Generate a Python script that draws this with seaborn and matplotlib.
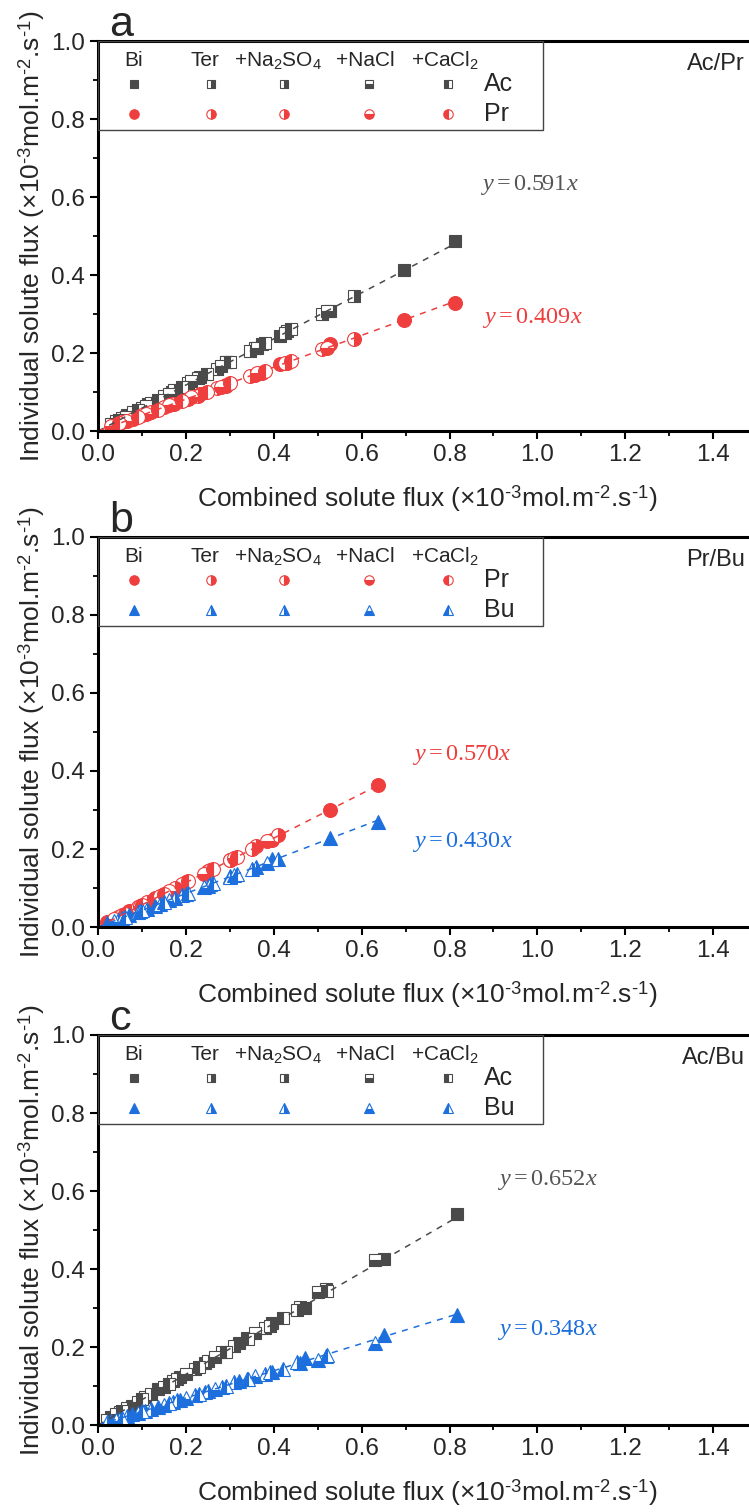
import matplotlib
matplotlib.use('Agg')
import matplotlib.pyplot as plt
import seaborn as sns
from matplotlib.patches import Rectangle
from matplotlib.ticker import MultipleLocator

# conditions, in legend order
conditions = ['Bi', 'Ter', '+Na$_\\mathsf{2}$SO$_\\mathsf{4}$', '+NaCl', '+CaCl$_\\mathsf{2}$']
fills = ['full', 'right', 'right', 'bottom', 'left']

# panel a: Ac / Pr  (combined flux, individual fluxes)
ap_x = [[0.813, 0.697, 0.528, 0.415, 0.372, 0.292, 0.232, 0.167, 0.114, 0.065],
        [0.583, 0.509, 0.430, 0.356, 0.290, 0.226, 0.172, 0.121, 0.078, 0.040],
        [0.425, 0.345, 0.270, 0.205, 0.150, 0.100, 0.055],
        [0.520, 0.362, 0.280, 0.212, 0.160, 0.108, 0.062, 0.028],
        [0.440, 0.380, 0.300, 0.248, 0.190, 0.135, 0.090, 0.048]]
ap_ac = [[0.487, 0.414, 0.308, 0.243, 0.222, 0.176, 0.138, 0.100, 0.069, 0.040],
         [0.347, 0.301, 0.257, 0.214, 0.177, 0.137, 0.104, 0.073, 0.048, 0.025],
         [0.252, 0.205, 0.160, 0.122, 0.089, 0.060, 0.034],
         [0.307, 0.213, 0.166, 0.127, 0.095, 0.064, 0.037, 0.017],
         [0.262, 0.225, 0.178, 0.147, 0.113, 0.080, 0.053, 0.029]]
ap_pr = [[0.329, 0.285, 0.222, 0.173, 0.150, 0.117, 0.094, 0.068, 0.046, 0.026],
         [0.237, 0.209, 0.174, 0.143, 0.116, 0.091, 0.070, 0.049, 0.031, 0.016],
         [0.175, 0.140, 0.111, 0.083, 0.061, 0.041, 0.022],
         [0.213, 0.148, 0.114, 0.086, 0.066, 0.044, 0.025, 0.012],
         [0.180, 0.155, 0.122, 0.101, 0.077, 0.055, 0.037, 0.020]]

# panel b: Pr / Bu
pb_x = [[0.636, 0.528, 0.395, 0.300, 0.200, 0.130, 0.070, 0.020],
        [0.410, 0.360, 0.300, 0.250, 0.190, 0.140, 0.090, 0.045],
        [0.350, 0.255, 0.175, 0.110, 0.055],
        [0.385, 0.310, 0.240, 0.160, 0.095, 0.035],
        [0.315, 0.262, 0.205, 0.150, 0.100, 0.060]]
pb_pr = [[0.364, 0.300, 0.222, 0.172, 0.116, 0.075, 0.040, 0.012],
         [0.237, 0.207, 0.172, 0.143, 0.109, 0.080, 0.052, 0.026],
         [0.201, 0.146, 0.100, 0.063, 0.031],
         [0.221, 0.177, 0.137, 0.092, 0.054, 0.020],
         [0.180, 0.150, 0.117, 0.085, 0.057, 0.034]]
pb_bu = [[0.270, 0.229, 0.175, 0.130, 0.085, 0.055, 0.030, 0.009],
         [0.174, 0.154, 0.128, 0.106, 0.081, 0.060, 0.038, 0.019],
         [0.149, 0.109, 0.075, 0.047, 0.024],
         [0.164, 0.133, 0.103, 0.068, 0.041, 0.015],
         [0.135, 0.112, 0.088, 0.065, 0.043, 0.026]]

# panel c: Ac / Bu
pc_x = [[0.816, 0.651, 0.471, 0.395, 0.320, 0.243, 0.186, 0.137, 0.076, 0.030],
        [0.519, 0.459, 0.380, 0.338, 0.281, 0.220, 0.170, 0.106, 0.050, 0.020],
        [0.452, 0.390, 0.310, 0.250, 0.180, 0.120, 0.065],
        [0.630, 0.501, 0.357, 0.265, 0.200, 0.150, 0.090, 0.040],
        [0.520, 0.420, 0.340, 0.290, 0.230, 0.160, 0.100, 0.055]]
pc_ac = [[0.541, 0.425, 0.300, 0.262, 0.210, 0.160, 0.123, 0.092, 0.050, 0.020],
         [0.348, 0.303, 0.250, 0.222, 0.186, 0.143, 0.112, 0.071, 0.034, 0.014],
         [0.296, 0.255, 0.203, 0.164, 0.117, 0.079, 0.043],
         [0.423, 0.342, 0.237, 0.174, 0.131, 0.098, 0.059, 0.027],
         [0.343, 0.275, 0.221, 0.188, 0.150, 0.104, 0.066, 0.036]]
pc_bu = [[0.282, 0.231, 0.171, 0.137, 0.112, 0.085, 0.064, 0.047, 0.027, 0.010],
         [0.177, 0.158, 0.132, 0.118, 0.097, 0.076, 0.059, 0.037, 0.017, 0.007],
         [0.162, 0.137, 0.109, 0.087, 0.063, 0.042, 0.023],
         [0.209, 0.167, 0.125, 0.092, 0.070, 0.052, 0.031, 0.014],
         [0.179, 0.144, 0.119, 0.101, 0.080, 0.057, 0.035, 0.019]]

# fitted slopes and fit range
slopes_a = [0.591, 0.409]
slopes_b = [0.570, 0.430]
slopes_c = [0.652, 0.348]
fit_end = [0.815, 0.636, 0.818]

GRAY, RED, BLUE = '#4a4a4a', '#ef3e3e', '#1c6fdc'
SOLUTES = {'Ac': (GRAY, 's', 9), 'Pr': (RED, 'o', 10), 'Bu': (BLUE, '^', 10.5)}

sns.set_theme(style='ticks')
plt.rcParams['font.family'] = ['Liberation Sans', 'DejaVu Sans']
plt.rcParams['mathtext.fontset'] = 'custom'
plt.rcParams['mathtext.rm'] = 'Liberation Serif'
plt.rcParams['mathtext.it'] = 'Liberation Serif:italic'
plt.rcParams['mathtext.sf'] = 'Liberation Sans'

fig = plt.figure(figsize=(7.49, 15.12), dpi=100)

unit = '(\u00d710$^{\\mathsf{\u20103}}$mol.m$^{\\mathsf{\u20102}}$.s$^{\\mathsf{\u20101}}$)'
ylab = 'Individual solute flux ' + unit
xlab = 'Combined solute flux ' + unit


def draw_panel(ax, letter, names, xs, y1, y2, slopes, xend, eq_pos, tag):
    for name, ys in zip(names, [y1, y2]):
        col, mk, ms = SOLUTES[name]
        for i in range(len(conditions)):
            sns.lineplot(x=xs[i], y=ys[i], ax=ax, estimator=None, sort=False,
                         linestyle='', marker=mk, markersize=ms, fillstyle=fills[i],
                         color=col, markerfacecolor=col, markerfacecoloralt='white',
                         markeredgecolor=col, markeredgewidth=0.8, legend=False)
    for name, k, (ex, ey) in zip(names, slopes, eq_pos):
        col = SOLUTES[name][0]
        sns.lineplot(x=[0, xend], y=[0, k * xend], ax=ax, color=col, lw=1.1,
                     linestyle=(0, (4, 4)), legend=False)
        ax.text(ex, ey, '$y{=}\\mathrm{%.3f}x$' % k,
                color='#555555' if col == GRAY else col,
                fontsize=17.5, va='center', ha='left')

    ax.set_xlim(0, 1.5)
    ax.set_ylim(0, 1.0)
    ax.xaxis.set_major_locator(MultipleLocator(0.2))
    ax.xaxis.set_minor_locator(MultipleLocator(0.1))
    ax.yaxis.set_major_locator(MultipleLocator(0.2))
    ax.yaxis.set_minor_locator(MultipleLocator(0.1))
    ax.tick_params(which='major', length=6, width=1.5, labelsize=17.5, color='black')
    ax.tick_params(which='minor', length=3.5, width=1.3, color='black')
    for s in ax.spines.values():
        s.set_linewidth(2.2)
        s.set_color('black')
    ax.set_xlabel(xlab, fontsize=19, labelpad=12)
    ax.set_ylabel(ylab, fontsize=19, labelpad=3)

    # legend table
    ax.add_patch(Rectangle((0, 0.772), 0.675, 0.228, transform=ax.transAxes,
                           fill=False, edgecolor='#444444', lw=1.0, zorder=5))
    head_x = [0.054, 0.162, 0.273, 0.405, 0.527]
    mark_x = [0.054, 0.171, 0.282, 0.411, 0.531]
    for hx, lab in zip(head_x, conditions):
        ax.text(hx, 0.951, lab, transform=ax.transAxes, ha='center', va='center',
                fontsize=15)
    for name, ry in zip(names, [0.889, 0.812]):
        col, mk, ms = SOLUTES[name]
        for i, mx in enumerate(mark_x):
            ax.plot([mx], [ry], transform=ax.transAxes, linestyle='', marker=mk,
                    markersize=ms * 0.68, fillstyle=fills[i], color=col,
                    markerfacecoloralt='white', markeredgecolor=col,
                    markeredgewidth=0.8, clip_on=False)
        ax.text(0.585, ry, name, transform=ax.transAxes, ha='left', va='center',
                fontsize=18)
    ax.text(0.982, 0.94, tag, transform=ax.transAxes, ha='right', va='center',
            fontsize=17)
    ax.text(0.016, 1.012, letter, transform=ax.transAxes, ha='left',
            va='baseline', fontsize=31)


left, width, height = 98.3 / 749, 658.5 / 749, 390 / 1512
bottoms = [(1512 - 431) / 1512, (1512 - 927) / 1512, (1512 - 1425) / 1512]
axes = [fig.add_axes([left, b, width, height]) for b in bottoms]

draw_panel(axes[0], 'a', ['Ac', 'Pr'], ap_x, ap_ac, ap_pr, slopes_a, fit_end[0],
           [(0.869, 0.631), (0.874, 0.290)], 'Ac/Pr')
draw_panel(axes[1], 'b', ['Pr', 'Bu'], pb_x, pb_pr, pb_bu, slopes_b, fit_end[1],
           [(0.715, 0.441), (0.715, 0.218)], 'Pr/Bu')
draw_panel(axes[2], 'c', ['Ac', 'Bu'], pc_x, pc_ac, pc_bu, slopes_c, fit_end[2],
           [(0.908, 0.628), (0.908, 0.244)], 'Ac/Bu')

fig.savefig('out.png', dpi=100)
